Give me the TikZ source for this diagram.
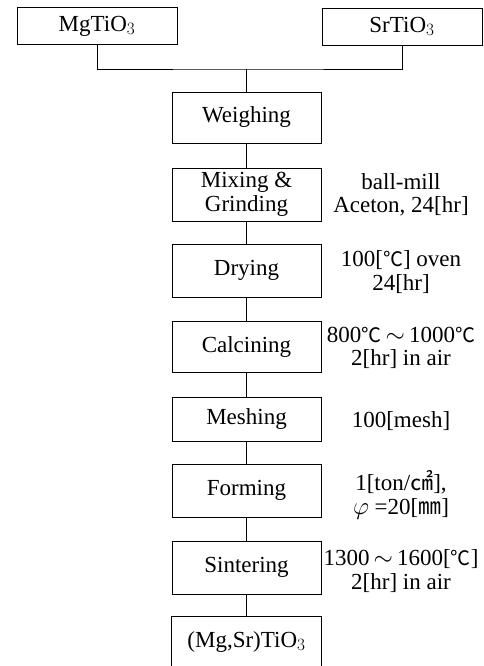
\documentclass[tikz,border=0pt]{standalone}
\usepackage{fontspec}
\setmainfont{Liberation Serif}
\newfontfamily\cjk{Noto Sans CJK KR}
\usetikzlibrary{positioning}
\newcommand{\flowfont}{\fontsize{23}{23.5}\selectfont}
\newcommand{\degC}{{\cjk\fontsize{20}{23.5}\selectfont ℃}}

\begin{document}
\begin{tikzpicture}[x=1pt, y=-1pt, font=\flowfont, line width=0.8pt]
    \tikzset{
      stepbox/.style={draw, inner sep=0pt, minimum width=149pt, minimum height=51pt},
      rawbox/.style={draw, inner sep=0pt, minimum width=160pt, minimum height=37pt},
      note/.style={align=center, inner sep=0pt}
    }
    \useasboundingbox (0,0) rectangle (484,666);
    % starting powders
    \node[rawbox] (mg) at (97,26) {MgTiO$_3$};
    \node[rawbox] (sr) at (402,26.5) {SrTiO$_3$};
    \coordinate (join) at (246.5,69);
    % process steps
    \node[stepbox] (weigh) at (246.5,117.5) {Weighing};
    \node[stepbox, minimum height=53pt, align=center] (mix) at (246.5,194.5) {Mixing \&\\Grinding};
    \node[stepbox, minimum height=53pt] (dry) at (246.5,270.5) {Drying};
    \node[stepbox] (calc) at (246.5,346.5) {Calcining};
    \node[stepbox, minimum height=44pt] (mesh) at (246.5,419) {Meshing};
    \node[stepbox, minimum height=53pt] (form) at (246.5,490.5) {Forming};
    \node[stepbox, minimum height=53pt] (sinter) at (246.5,567.5) {Sintering};
    % final product, box runs off the bottom edge
    \node[inner sep=0pt, minimum width=149pt, minimum height=49pt] (prod) at (246.5,641.5) {(Mg,Sr)TiO$_3$};
    \draw (prod.south west) -- (prod.north west) -- (prod.north east) -- (prod.south east);
    % connectors
    \draw (mg.south) |- (join) -| (sr.south);
    \draw (join) -- (weigh.north);
    \draw (weigh) -- (mix);
    \draw (mix) -- (dry);
    \draw (dry) -- (calc);
    \draw (calc) -- (mesh);
    \draw (mesh) -- (form);
    \draw (form) -- (sinter);
    \draw (sinter) -- (prod.north);
    % process conditions
    \node[note] (mixnote) at (401,195) {ball-mill\\Aceton, 24[hr]};
    \node[note] (drynote) at (401,272) {100[\degC] oven\\24[hr]};
    \node[note] (calcnote) at (401,348) {800\degC$\,\sim\,$1000\degC\\2[hr] in air};
    \node[note] (meshnote) at (401,421) {100[mesh]};
    \node[note] (formnote) at (401,495) {1[ton/{\cjk ㎠}],\\$\varphi$ =20[{\cjk ㎜}]};
    \node[note] (sinternote) at (401,571) {1300$\,\sim\,$1600[\degC]\\2[hr] in air};
  \end{tikzpicture}
\end{document}
